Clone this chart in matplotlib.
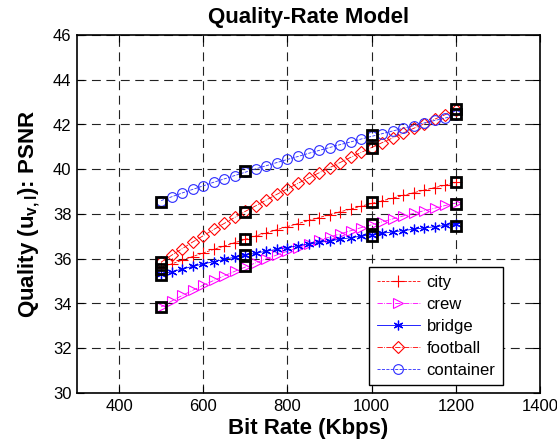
import matplotlib
matplotlib.use("Agg")
import matplotlib.pyplot as plt

plt.rcParams['font.family'] = ['Liberation Sans', 'DejaVu Sans']
plt.rcParams['mathtext.fontset'] = 'custom'
plt.rcParams['mathtext.rm'] = 'Liberation Sans:bold'
plt.rcParams['mathtext.bf'] = 'Liberation Sans:bold'
plt.rcParams['mathtext.it'] = 'Liberation Sans:bold'
plt.rcParams['mathtext.default'] = 'bf'

# ---------------- data ----------------
rates = [500, 525, 550, 575, 600, 625, 650, 675, 700, 725, 750, 775, 800, 825,
         850, 875, 900, 925, 950, 975, 1000, 1025, 1050, 1075, 1100, 1125,
         1150, 1175, 1200]

city = [35.60, 35.77, 35.94, 36.10, 36.26, 36.42, 36.57, 36.72, 36.87, 37.02,
        37.16, 37.30, 37.44, 37.57, 37.71, 37.84, 37.97, 38.10, 38.22, 38.35,
        38.47, 38.59, 38.71, 38.83, 38.95, 39.07, 39.18, 39.29, 39.41]
crew = [33.85, 34.11, 34.36, 34.59, 34.82, 35.03, 35.24, 35.44, 35.63, 35.82,
        36.00, 36.17, 36.34, 36.50, 36.66, 36.82, 36.97, 37.11, 37.25, 37.39,
        37.52, 37.65, 37.78, 37.91, 38.03, 38.15, 38.26, 38.38, 38.49]
bridge = [35.30, 35.42, 35.54, 35.66, 35.77, 35.87, 35.97, 36.07, 36.16, 36.25,
          36.34, 36.42, 36.50, 36.58, 36.66, 36.73, 36.80, 36.87, 36.94, 37.01,
          37.07, 37.14, 37.20, 37.26, 37.32, 37.38, 37.43, 37.49, 37.54]
football = [35.85, 36.16, 36.45, 36.75, 37.03, 37.31, 37.58, 37.85, 38.12, 38.37,
            38.63, 38.88, 39.13, 39.37, 39.61, 39.84, 40.07, 40.30, 40.53, 40.75,
            40.97, 41.19, 41.40, 41.62, 41.83, 42.03, 42.24, 42.44, 42.64]
container = [38.60, 38.77, 38.94, 39.10, 39.26, 39.42, 39.57, 39.72, 39.87, 40.02,
             40.16, 40.30, 40.44, 40.57, 40.71, 40.84, 40.97, 41.10, 41.22, 41.35,
             41.47, 41.59, 41.71, 41.83, 41.95, 42.07, 42.18, 42.29, 42.41]

meas_rates = [500, 700, 1000, 1200]
city_meas = [35.55, 36.88, 38.55, 39.41]
crew_meas = [33.83, 35.68, 37.55, 38.44]
bridge_meas = [35.27, 36.15, 37.02, 37.48]
football_meas = [35.85, 38.10, 40.96, 42.68]
container_meas = [38.55, 39.92, 41.54, 42.45]

labels = ['city', 'crew', 'bridge', 'football', 'container']
xticks = [400, 600, 800, 1000, 1200, 1400]
yticks = [30, 32, 34, 36, 38, 40, 42, 44, 46]

# ---------------- figure ----------------
fig = plt.figure(figsize=(5.57, 4.48), dpi=100)
ax = fig.add_axes([77/557, 1-393/448, 463/557, 358/448])

styles = [
    dict(color='#ff0000', ls='--', marker='+', ms=8, mew=0.8),
    dict(color='#ff00ff', ls='-.', marker='>', ms=7.5, mfc='none', mew=0.8),
    dict(color='#0000ff', ls='-', marker=(6, 2, 0), ms=7, mew=0.9),
    dict(color='#ff0000', ls='-.', marker='D', ms=6.3, mfc='none', mew=0.8),
    dict(color='#2b2bff', ls='--', marker='o', ms=7, mfc='none', mew=0.8),
]
series = [city, crew, bridge, football, container]
meas = [city_meas, crew_meas, bridge_meas, football_meas, container_meas]

handles = []
for s, st, lab in zip(series, styles, labels):
    h, = ax.plot(rates, s, lw=0.6, label=lab, zorder=3, **st)
    handles.append(h)
for m in meas:
    ax.plot(meas_rates, m, ls='none', marker='s', ms=7.5, mfc='none',
            mec='black', mew=2.0, zorder=4)

ax.set_xlim(300, 1400)
ax.set_ylim(30, 46)
ax.set_xticks(xticks)
ax.set_yticks(yticks)
ax.tick_params(direction='in', length=5, width=0.8, labelsize=12,
               top=True, right=True, colors='black', pad=4)
ax.grid(True, color='#222222', linestyle=(0, (8, 5)), linewidth=0.8)
for sp in ax.spines.values():
    sp.set_linewidth(1.2)

ax.set_title('Quality-Rate Model', fontsize=16, fontweight='bold', pad=9)
ax.set_xlabel('Bit Rate (Kbps)', fontsize=16, fontweight='bold', labelpad=3)
ax.set_ylabel(r'Quality (u$_{v,l}$): PSNR', fontsize=16, fontweight='bold', labelpad=8)

leg = ax.legend(handles=handles, loc='lower right',
                bbox_to_anchor=(426/463, 8/358), borderaxespad=0,
                fontsize=12, frameon=True, fancybox=False, framealpha=1,
                edgecolor='black', handlelength=2.6, handletextpad=0.4,
                labelspacing=0.42, borderpad=0.45, numpoints=1)
leg.get_frame().set_linewidth(1.0)

fig.savefig('out.png', dpi=100)
